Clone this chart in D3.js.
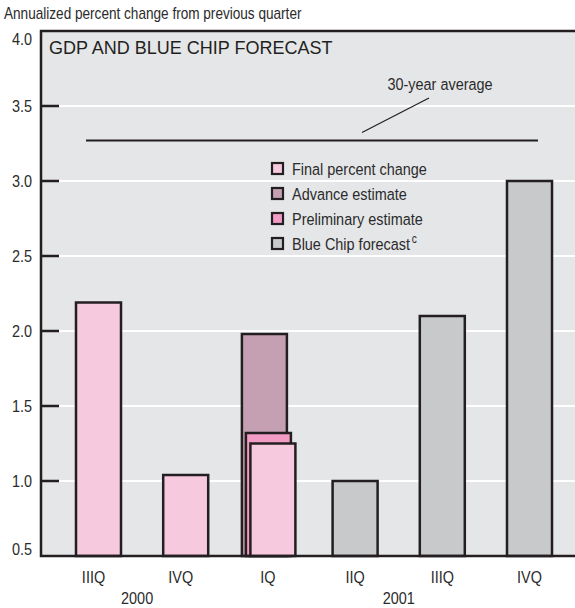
<!DOCTYPE html>
<html><head><meta charset="utf-8">
<script src="https://cdn.jsdelivr.net/npm/d3@7"></script>
<style>
html,body{margin:0;padding:0;background:#fff;}
svg{display:block;}
text{font-family:"Liberation Sans",Arial,sans-serif;}
</style>
</head><body>
<svg id="chart" width="575" height="608"></svg>
<script>
// ---- data ----
const quarters = ["IIIQ","IVQ","IQ","IIQ","IIIQ","IVQ"];
const years = ["2000","2001"];
const yearSpans = [[0,1],[2,5]];
const finalChange = [2.19, 1.04, 1.25, null, null, null];
const advanceEst = [null, null, 1.98, null, null, null];
const prelimEst = [null, null, 1.32, null, null, null];
const blueChip = [null, null, null, 1.0, 2.1, 3.0];
const thirtyYearAvg = 3.27;
const yTicks = [0.5,1.0,1.5,2.0,2.5,3.0,3.5,4.0];
const legendLabels = ["Final percent change","Advance estimate","Preliminary estimate","Blue Chip forecast"];

// ---- styles ----
const C = {bg:"#e5e6e8", ink:"#231f20", txt:"#2b2b2b", final:"#f7c9de", adv:"#c4a0b2", prel:"#f29bc5", blue:"#c8c9cb", grid:"#ffffff"};
const L = 41, T = 31, R = 575, B = 556;
const bw = 45;
const FS = 17;        // condensed text font size
const K = 0.85;       // horizontal condense factor

const svg = d3.select("#chart");
const y = d3.scaleLinear().domain([0.5,4.0]).range([B,T]);
const idx = d3.range(quarters.length);
const x = d3.scalePoint().domain(idx).range([93.5,529.5]);

// condensed text helper
function ctext(parent, tx, ty, str, anchor, fs){
  const g = parent.append("g").attr("transform",`translate(${tx},${ty}) scale(${K},1)`);
  const t = g.append("text").attr("x",0).attr("y",0).attr("text-anchor",anchor||"start")
    .style("font-size",(fs||FS)+"px").attr("fill",C.txt).text(str);
  return t;
}

// background
svg.append("rect").attr("x",L).attr("y",T).attr("width",R-L).attr("height",B-T).attr("fill",C.bg);

// gridlines
svg.append("g").selectAll("line").data(yTicks.filter(v=>v>0.5 && v<4.0)).join("line")
  .attr("x1",L+18).attr("x2",R).attr("y1",d=>y(d)).attr("y2",d=>y(d))
  .attr("stroke",C.grid).attr("stroke-width",2);

// y tick labels
const gy = svg.append("g");
yTicks.forEach(v=>{
  const off = v===4.0 ? 14 : v===0.5 ? -1 : 6;
  ctext(gy, 32, y(v)+off, d3.format(".1f")(v), "end");
});
// tick marks inside
svg.append("g").selectAll("line").data(yTicks.filter(v=>v>0.5 && v<4.0)).join("line")
  .attr("x1",L).attr("x2",L+18).attr("y1",d=>y(d)).attr("y2",d=>y(d))
  .attr("stroke",C.ink).attr("stroke-width",2.5);

// 30-year average
svg.append("line").attr("x1",86).attr("x2",538).attr("y1",y(thirtyYearAvg)).attr("y2",y(thirtyYearAvg))
  .attr("stroke",C.ink).attr("stroke-width",2.2);
svg.append("line").attr("x1",362).attr("y1",y(thirtyYearAvg)-8).attr("x2",429).attr("y2",98)
  .attr("stroke",C.ink).attr("stroke-width",1.2);
ctext(svg, 440, 90, "30-year average", "middle");

// bars
function drawBars(vals, color, offset){
  const data = idx.filter(i=>vals[i]!=null).map(i=>({i, v:vals[i]}));
  svg.append("g").selectAll("rect").data(data).join("rect")
    .attr("x",d=>x(d.i)-bw/2+offset).attr("y",d=>y(d.v))
    .attr("width",bw).attr("height",d=>B-y(d.v))
    .attr("fill",color).attr("stroke",C.ink).attr("stroke-width",2.5);
}
drawBars(advanceEst, C.adv, -3.5);
drawBars(prelimEst, C.prel, 0.5);
drawBars(finalChange, C.final, 5);
drawBars(blueChip, C.blue, 0);

// frame (left, top, bottom)
svg.append("path").attr("d",`M${R},${T}H${L}V${B}H${R}`).attr("fill","none")
  .attr("stroke",C.ink).attr("stroke-width",2.5);

// title
svg.append("text").attr("x",49).attr("y",54)
  .style("font-size","18px").attr("fill",C.ink)
  .text("GDP AND BLUE CHIP FORECAST");

// y axis title
ctext(svg, 4, 19, "Annualized percent change from previous quarter", "start", 16);

// legend
const legColors = [C.final, C.adv, C.prel, C.blue];
const lg = svg.append("g");
legendLabels.forEach((lab,k)=>{
  const cy = 169 + k*25;
  lg.append("rect").attr("x",272).attr("y",cy-6).attr("width",11).attr("height",11)
    .attr("fill",legColors[k]).attr("stroke",C.ink).attr("stroke-width",2.2);
  const t = ctext(lg, 292, cy+6, lab, "start");
  if(k===3){ t.append("tspan").attr("dy",-7).attr("dx",2).style("font-size","12px").text("c"); }
});

// x axis labels
const gx = svg.append("g");
idx.forEach(i=>ctext(gx, x(i), 583, quarters[i], "middle"));
years.forEach((yr,k)=>ctext(gx, (x(yearSpans[k][0])+x(yearSpans[k][1]))/2, 604, yr, "middle"));
</script>
</body></html>
